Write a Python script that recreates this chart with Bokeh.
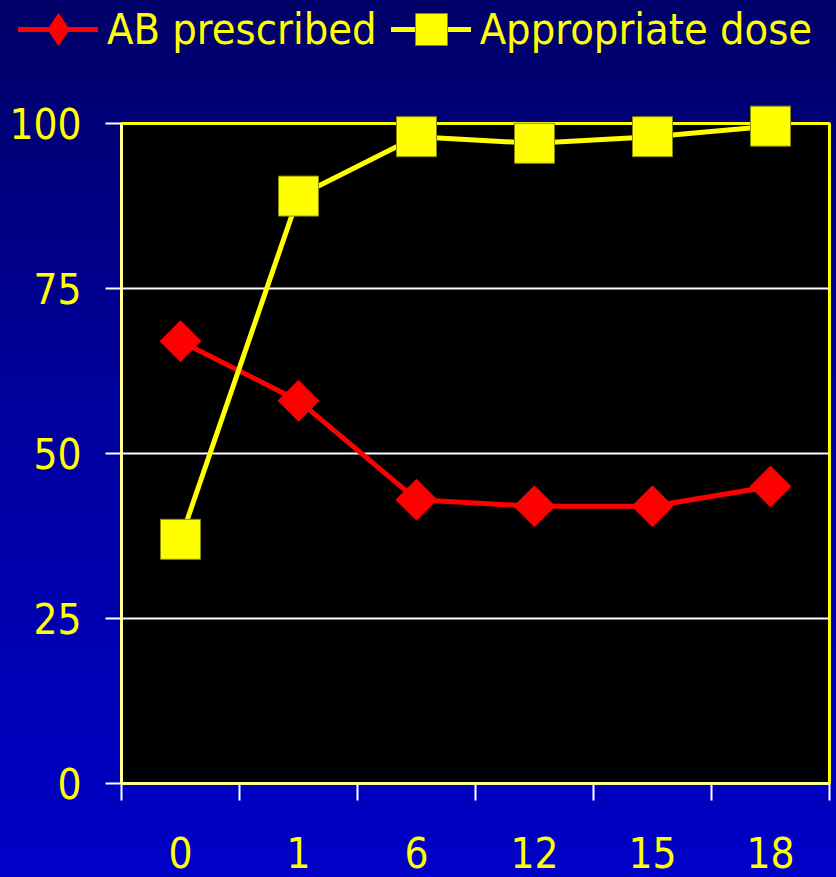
from bokeh.plotting import figure
from bokeh.models import FixedTicker, Legend, LegendItem, Range1d
from bokeh.embed import file_html
from bokeh.resources import INLINE
import math

# ---- data ----
months = ["0", "1", "6", "12", "15", "18"]
ab_prescribed = [67, 58, 43, 42, 42, 45]
appropriate_dose = [37, 89, 98, 97, 98, 99.6]
y_ticks = [0, 25, 50, 75, 100]

x = list(range(len(months)))
x_lo, x_hi = -0.5, len(months) - 0.5
y_lo, y_hi = y_ticks[0], y_ticks[-1]

# ---- layout (pixels) ----
W, H = 836, 877
FL, FR, FT, FB = 121, 829, 123, 783   # black box edges on the page
xs = (FR - FL) / (x_hi - x_lo)
ys = (FB - FT) / (y_hi - y_lo)

FONT = "DejaVu Sans Condensed"
YELLOW = "#FFFF00"

p = figure(width=W, height=H, output_backend="svg", toolbar_location=None,
           x_range=Range1d(x_lo - FL / xs, x_hi + (W - FR) / xs),
           y_range=Range1d(y_lo - (H - FB) / ys, y_hi + FT / ys),
           min_border=0)

p.background_fill_alpha = 0
p.border_fill_alpha = 0
p.outline_line_color = None
p.styles = {"background": "linear-gradient(to bottom, #000068 0%, #00009c 45%, #0000c8 100%)"}

# black plotting box with yellow border
p.quad(left=x_lo, right=x_hi, bottom=y_lo, top=y_hi,
       fill_color="black", line_color=YELLOW, line_width=3)
# white horizontal grid lines
grid_y = y_ticks[1:-1]
p.segment(x0=[x_lo] * len(grid_y), x1=[x_hi] * len(grid_y), y0=grid_y, y1=grid_y,
          line_color="white", line_width=2)

# x axis
xa = p.xaxis[0]
xa.fixed_location = y_lo
xa.bounds = (x_lo, x_hi)
xa.ticker = FixedTicker(ticks=x, minor_ticks=[i - 0.5 for i in x] + [x[-1] + 0.5])
xa.major_label_overrides = {i: m for i, m in zip(x, months)}
xa.major_tick_line_color = None
xa.major_tick_out = 17
xa.major_tick_in = 0
xa.minor_tick_line_color = "white"
xa.minor_tick_line_width = 2
xa.minor_tick_out = 17
xa.minor_tick_in = 0
xa.axis_line_color = "white"
xa.axis_line_width = 2
xa.major_label_text_font = FONT
xa.major_label_text_font_size = "42px"
xa.major_label_text_color = YELLOW
xa.major_label_standoff = 36

# y axis
ya = p.yaxis[0]
ya.fixed_location = x_lo
ya.bounds = (y_lo, y_hi)
ya.ticker = FixedTicker(ticks=y_ticks)
ya.minor_tick_line_color = None
ya.major_tick_line_color = "white"
ya.major_tick_line_width = 2
ya.major_tick_out = 16
ya.major_tick_in = 0
ya.axis_line_color = "white"
ya.axis_line_width = 2
ya.major_label_text_font = FONT
ya.major_label_text_font_size = "42px"
ya.major_label_text_color = YELLOW
ya.major_label_standoff = 24

p.xgrid.grid_line_color = None
p.ygrid.grid_line_color = None

# series
l1 = p.line(x, ab_prescribed, line_color="red", line_width=5,
            line_cap="round", line_join="round")
m1 = p.scatter(x, ab_prescribed, marker="square", size=29, angle=math.pi / 4,
               fill_color="red", line_color="red")
l2 = p.line(x, appropriate_dose, line_color=YELLOW, line_width=5,
            line_cap="round", line_join="round")
m2 = p.scatter(x, appropriate_dose, marker="square", size=40,
               fill_color=YELLOW, line_color="#8a8a00", line_width=1)
# legend-only diamond (legend glyphs ignore marker angle)
m1_leg = p.scatter(x, ab_prescribed, marker="diamond", size=40,
                   fill_color="red", line_color="red", visible=False)

legend = Legend(items=[LegendItem(label="AB prescribed", renderers=[l1, m1_leg]),
                       LegendItem(label="Appropriate dose", renderers=[l2, m2])],
                orientation="horizontal", location=(18, 808))
legend.background_fill_alpha = 0
legend.border_line_color = None
legend.padding = 0
legend.margin = 0
legend.spacing = 14
legend.glyph_width = 80
legend.glyph_height = 80
legend.label_standoff = 9
legend.label_text_font = FONT
legend.label_text_font_size = "43px"
legend.label_text_color = YELLOW
legend.inactive_fill_alpha = 0
p.add_layout(legend, "center")

open("out.html", "w").write(file_html(p, INLINE))
